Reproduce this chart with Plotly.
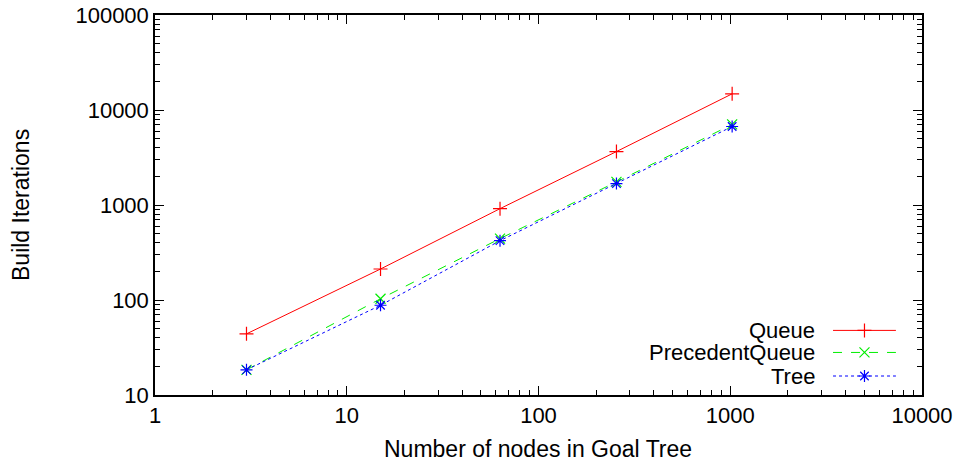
import plotly.graph_objects as go

nodes = [3, 15, 63, 255, 1023]
queue = [44, 212, 915, 3650, 14800]
precedent_queue = [18.4, 103, 443, 1750, 7050]
tree = [18.4, 88, 421, 1680, 6700]

series_names = ["Queue", "PrecedentQueue", "Tree"]
series_values = [queue, precedent_queue, tree]
colors = ["#ff0000", "#00ee00", "#0000ff"]
dashes = ["solid", "dash", "dot"]
symbols = ["cross-thin-open", "x-thin-open", "asterisk-open"]

x_ticks = [1, 10, 100, 1000, 10000]
y_ticks = [10, 100, 1000, 10000, 100000]

FONT = "Liberation Sans, Arial, Helvetica, sans-serif"
FS = 22
FT = 23

L, R, T, B = 155, 36, 15, 70
W, H = 958, 465
pw, ph = W - L - R, H - T - B

fig = go.Figure()
for name, vals, c, d, s in zip(series_names, series_values, colors, dashes, symbols):
    fig.add_trace(go.Scatter(
        x=nodes, y=vals, mode="lines+markers", name=name,
        line=dict(color=c, width=1, dash=d),
        marker=dict(symbol=s, size=10, color=c, line=dict(color=c, width=1.2)),
        showlegend=False,
    ))

# manual gnuplot-style legend (text left, sample right)
leg_y = [0.170, 0.112, 0.050]
for name, c, d, s, yy in zip(series_names, colors, dashes, symbols, leg_y):
    fig.add_trace(go.Scatter(
        x=[0.884, 0.966], y=[yy, yy], mode="lines", xaxis="x2", yaxis="y2",
        line=dict(color=c, width=1, dash=d), showlegend=False, hoverinfo="skip"))
    fig.add_trace(go.Scatter(
        x=[0.925], y=[yy], mode="markers", xaxis="x2", yaxis="y2",
        marker=dict(symbol=s, size=10, color=c, line=dict(color=c, width=1.2)),
        showlegend=False, hoverinfo="skip"))
    fig.add_annotation(x=0.863, y=yy, xref="paper", yref="paper", text=name,
                       showarrow=False, xanchor="right", yanchor="middle",
                       font=dict(size=FS, color="black", family=FONT))

minor_x = [m * 10 ** e for e in range(0, 4) for m in range(2, 10)]
minor_y = [m * 10 ** e for e in range(1, 5) for m in range(2, 10)]

fig.add_annotation(x=(538 - L) / pw, y=-(449 - (H - B)) / ph, xref="paper", yref="paper",
                   text="Number of nodes in Goal Tree", showarrow=False,
                   xanchor="center", yanchor="middle",
                   font=dict(size=FT, family=FONT, color="black"))
fig.add_annotation(x=-(L - 21) / pw, y=0.5, xref="paper", yref="paper",
                   text="Build Iterations", showarrow=False, textangle=-90,
                   xanchor="center", yanchor="middle",
                   font=dict(size=FT, family=FONT, color="black"))

fig.update_layout(
    width=W, height=H,
    margin=dict(l=L, r=R, t=T, b=B),
    paper_bgcolor="white", plot_bgcolor="white",
    font=dict(family=FONT, size=FS, color="black"),
    xaxis=dict(
        type="log", range=[0, 4], tickvals=x_ticks, ticktext=[str(v) for v in x_ticks],
        ticks="inside", ticklen=9, tickwidth=1, tickcolor="black",
        showline=True, linecolor="black", linewidth=1.5, mirror="allticks",
        showgrid=False, zeroline=False, automargin=False,
        minor=dict(tickvals=minor_x, ticks="inside", ticklen=5, tickcolor="black", showgrid=False),
        tickfont=dict(size=FS),
    ),
    yaxis=dict(
        type="log", range=[1, 5], tickvals=y_ticks, ticktext=[str(v) for v in y_ticks],
        ticks="inside", ticklen=9, tickwidth=1, tickcolor="black",
        showline=True, linecolor="black", linewidth=1.5, mirror="allticks",
        showgrid=False, zeroline=False, automargin=False,
        minor=dict(tickvals=minor_y, ticks="inside", ticklen=5, tickcolor="black", showgrid=False),
        tickfont=dict(size=FS),
    ),
    xaxis2=dict(range=[0, 1], overlaying="x", visible=False, fixedrange=True),
    yaxis2=dict(range=[0, 1], overlaying="y", visible=False, fixedrange=True),
)

fig.write_html("out.html", config={"displayModeBar": False},
               post_script="document.body.style.margin='0';document.body.style.overflow='hidden';")
